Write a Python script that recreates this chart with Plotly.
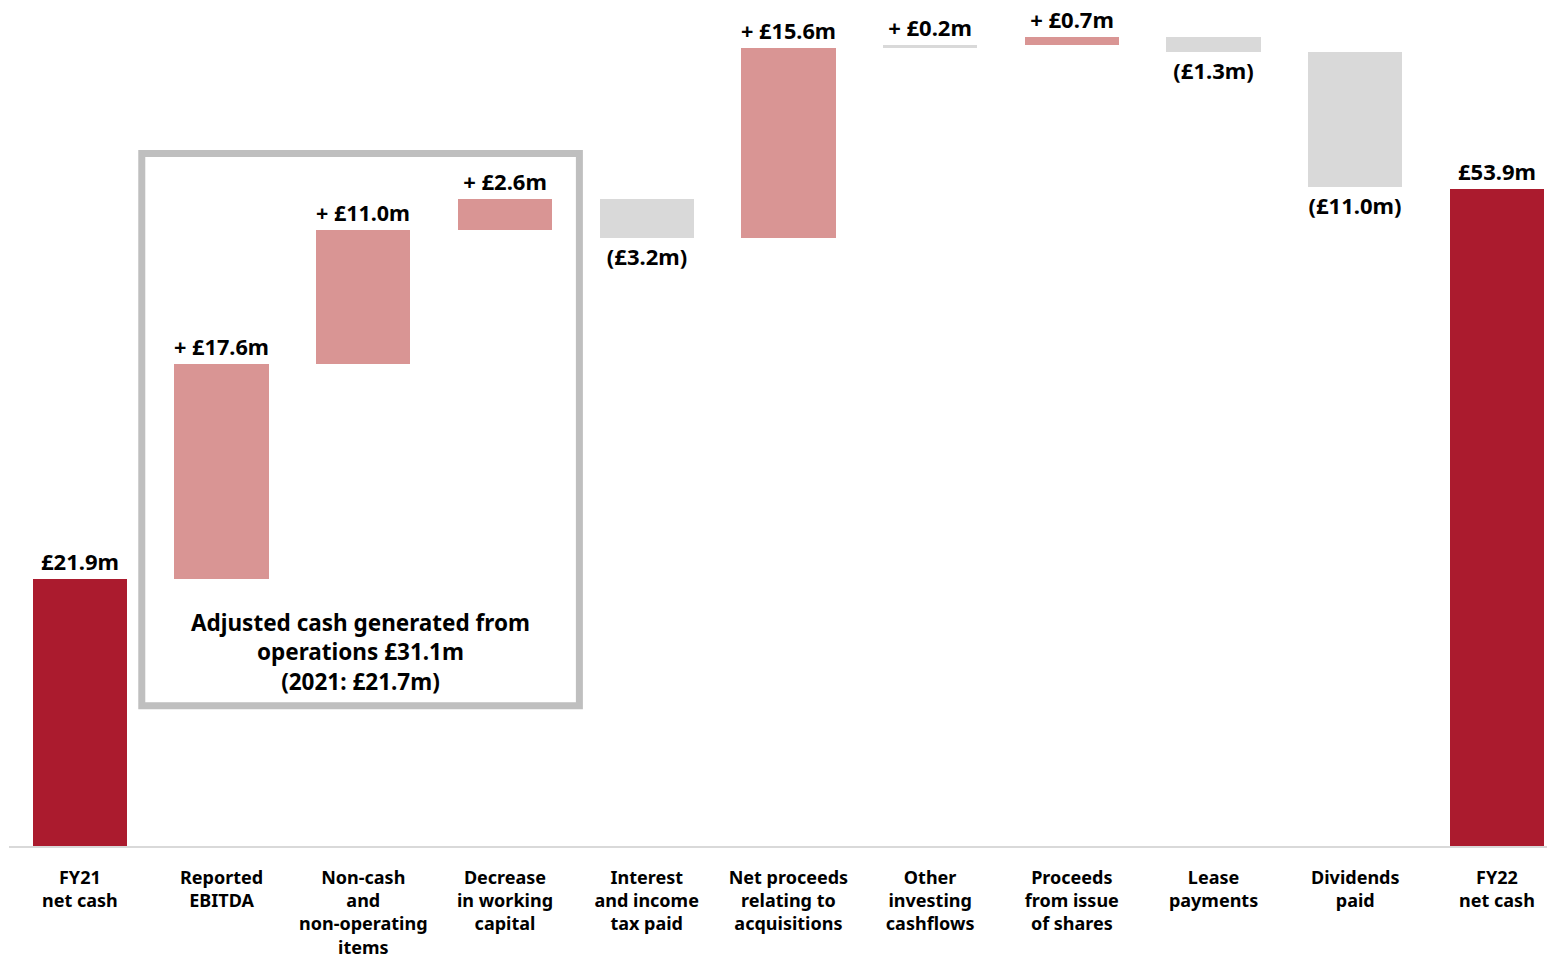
import plotly.graph_objects as go

# Net cash bridge, FY21 -> FY22 (£m)
categories = [
    "FY21<br>net cash",
    "Reported<br>EBITDA",
    "Non-cash<br>and<br>non-operating<br>items",
    "Decrease<br>in working<br>capital",
    "Interest<br>and income<br>tax paid",
    "Net proceeds<br>relating to<br>acquisitions",
    "Other<br>investing<br>cashflows",
    "Proceeds<br>from issue<br>of shares",
    "Lease<br>payments",
    "Dividends<br>paid",
    "FY22<br>net cash",
]
values = [21.9, 17.6, 11.0, 2.6, -3.2, 15.6, 0.2, 0.7, -1.3, -11.0, 53.9]
measures = ["total", "relative", "relative", "relative", "relative", "relative",
            "relative", "relative", "relative", "relative", "total"]
labels = ["£21.9m", "+ £17.6m", "+ £11.0m", "+ £2.6m", "(£3.2m)", "+ £15.6m",
          "+ £0.2m", "+ £0.7m", "(£1.3m)", "(£11.0m)", "£53.9m"]
box_text = "Adjusted cash generated from<br>operations £31.1m<br>(2021: £21.7m)"

DARK_RED = "#AB1B2E"
PINK = "#D99594"
GREY = "#D9D9D9"
bar_colors = [DARK_RED, PINK, PINK, PINK, GREY, PINK, GREY, PINK, GREY, GREY, DARK_RED]

# floating bases from the running total
bases = []
running = 0.0
for v, m in zip(values, measures):
    if m == "total":
        bases.append(0.0)
        running = v
    else:
        bases.append(running)
        running += v

x_idx = list(range(len(categories)))
FONT = "Noto Sans"

fig = go.Figure()
fig.add_trace(go.Bar(
    x=x_idx,
    y=values,
    base=bases,
    width=0.665,
    marker=dict(color=bar_colors, line=dict(width=0)),
    text=labels,
    textposition="outside",
    textfont=dict(family=FONT, size=22, color="#000000", weight="bold"),
    cliponaxis=False,
    hoverinfo="skip",
))

# frame around the operating cash flow steps
fig.add_shape(
    type="rect", xref="x", yref="y",
    x0=0.437, x1=3.525, y0=11.5, y1=56.8,
    line=dict(color="#BFBFBF", width=7),
    fillcolor="rgba(0,0,0,0)",
    layer="below",
)
fig.add_annotation(
    x=1.98, y=15.9, xref="x", yref="y",
    text=box_text, showarrow=False,
    font=dict(family=FONT, size=22.5, color="#000000", weight="bold"),
    align="center",
)

fig.update_layout(
    width=1547, height=960,
    margin=dict(l=9, r=0, t=0, b=114),
    paper_bgcolor="white",
    plot_bgcolor="white",
    showlegend=False,
    bargap=0,
    uniformtext=dict(mode=False),
)
fig.update_xaxes(
    range=[-0.5, 10.353],
    tickmode="array",
    tickvals=x_idx,
    ticktext=[f"<b>{c}</b>" for c in categories],
    tickfont=dict(family=FONT, size=18, color="#000000"),
    showline=True, linecolor="#D9D9D9", linewidth=2,
    showgrid=False, zeroline=False,
    ticks="", ticklabelstandoff=14,
    automargin=False,
)
fig.update_yaxes(
    range=[0, 69.4],
    visible=False,
    showgrid=False, zeroline=False,
    automargin=False,
)

fig.write_html("out.html")
